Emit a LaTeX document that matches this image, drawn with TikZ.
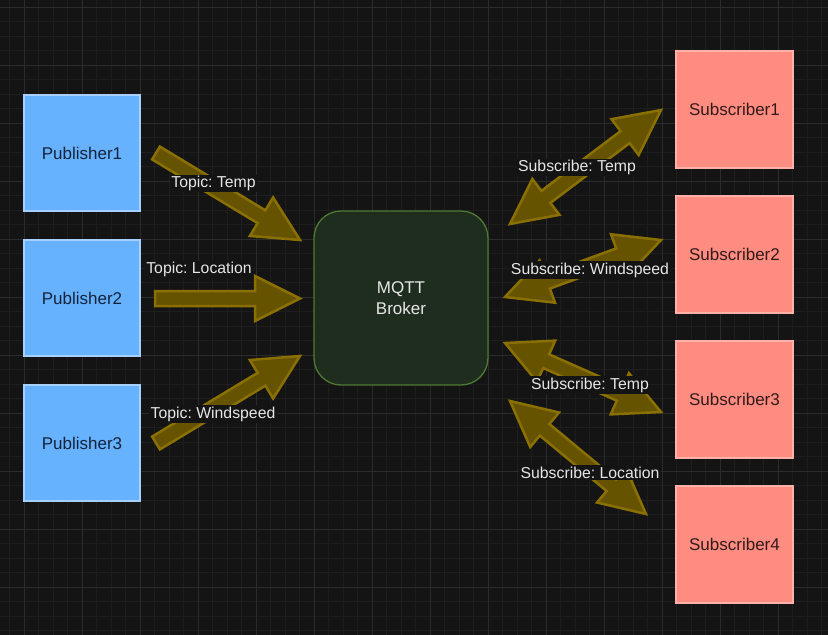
\documentclass[tikz,border=0pt]{standalone}
\usepackage{fontspec}
\setmainfont{Liberation Sans}
\usetikzlibrary{calc}
\frenchspacing
\definecolor{bgc}{HTML}{141414}
\definecolor{gridminor}{HTML}{1E1E1E}
\definecolor{gridmajor}{HTML}{2B2B2B}
\definecolor{pubfill}{HTML}{66B2FF}
\definecolor{pubdraw}{HTML}{A8D0FF}
\definecolor{pubtext}{HTML}{14233A}
\definecolor{subfill}{HTML}{FF8C80}
\definecolor{subdraw}{HTML}{FFB0A8}
\definecolor{subtext}{HTML}{331A1A}
\definecolor{brokfill}{HTML}{1F2D1F}
\definecolor{brokdraw}{HTML}{4F7A33}
\definecolor{arrfill}{HTML}{665300}
\definecolor{arrdraw}{HTML}{8A7000}
\definecolor{lbltext}{HTML}{E6E6E6}
\tikzset{
  pubbox/.style={draw=pubdraw, line width=1.3pt, fill=pubfill, minimum width=116pt, minimum height=116pt, inner sep=0pt, text=pubtext, font=\fontsize{17}{20}\selectfont},
  subbox/.style={draw=subdraw, line width=1.3pt, fill=subfill, minimum width=117pt, minimum height=117pt, inner sep=0pt, text=subtext, font=\fontsize{17}{20}\selectfont},
  brokbox/.style={draw=brokdraw, line width=1.3pt, fill=brokfill, rounded corners=27pt, minimum width=174pt, minimum height=174pt, inner sep=0pt, text=lbltext, align=center, font=\fontsize{17}{21}\selectfont},
  lbl/.style={fill=bgc, text=lbltext, inner sep=1.5pt, font=\fontsize{15.8}{18}\selectfont},
  fat/.style={fill=arrfill, draw=arrdraw, line width=2.5pt, line join=miter},
  minorline/.style={draw=gridminor, line width=0.8pt},
  majorline/.style={draw=gridmajor, line width=0.9pt}
}
% single fat arrow from #1 (tail) to #2 (tip)
\newcommand\fatarrowone[2]{%
  \coordinate (hb) at ($(#2)!45pt!(#1)$);
  \draw[fat] ($(#1)!7.5pt!90:(#2)$) -- ($(hb)!7.5pt!90:(#2)$) -- ($(hb)!22.5pt!90:(#2)$) -- (#2)
    -- ($(hb)!22.5pt!-90:(#2)$) -- ($(hb)!7.5pt!-90:(#2)$) -- ($(#1)!7.5pt!-90:(#2)$) -- cycle;
}
% double fat arrow between #1 and #2
\newcommand\fatarrowtwo[2]{%
  \coordinate (hb) at ($(#2)!45pt!(#1)$);
  \coordinate (ha) at ($(#1)!45pt!(#2)$);
  \draw[fat] (#1) -- ($(ha)!22.5pt!-90:(#2)$) -- ($(ha)!7.5pt!-90:(#2)$)
    -- ($(hb)!7.5pt!90:(#1)$) -- ($(hb)!22.5pt!90:(#1)$) -- (#2)
    -- ($(hb)!22.5pt!-90:(#1)$) -- ($(hb)!7.5pt!-90:(#1)$)
    -- ($(ha)!7.5pt!90:(#2)$) -- ($(ha)!22.5pt!90:(#2)$) -- cycle;
}
\begin{document}
\begin{tikzpicture}[x=1pt, y=-1pt]
\fill[bgc] (0,0) rectangle (828,635);
\useasboundingbox (0,0) rectangle (828,635);
% grid
\foreach \i in {-1,...,57} {\draw[minorline] ({24+14.5*\i},0) -- ({24+14.5*\i},635);}
\foreach \i in {0,...,44} {\draw[minorline] (0,{7+14.5*\i}) -- (828,{7+14.5*\i});}
\foreach \i in {-1,...,14} {\draw[majorline] ({24+58*\i},0) -- ({24+58*\i},635);}
\foreach \i in {0,...,11} {\draw[majorline] (0,{7+58*\i}) -- (828,{7+58*\i});}
% nodes
\node[pubbox] (p1) at (82,153) {Publisher1};
\node[pubbox] (p2) at (82,298) {Publisher2};
\node[pubbox] (p3) at (82,443) {Publisher3};
\node[brokbox] (br) at (401,298) {MQTT\\Broker};
\node[subbox] (s1) at (734.5,109.5) {Subscriber1};
\node[subbox] (s2) at (734.5,254.5) {Subscriber2};
\node[subbox] (s3) at (734.5,399.5) {Subscriber3};
\node[subbox] (s4) at (734.5,544.5) {Subscriber4};
% arrow end points
\coordinate (a1t) at (156,153);
\coordinate (a1h) at (300,240);
\coordinate (a2t) at (155,298.5);
\coordinate (a2h) at (300,298.5);
\coordinate (a3t) at (156,443);
\coordinate (a3h) at (300,356);
\coordinate (b1a) at (510,224);
\coordinate (b1b) at (661,110);
\coordinate (b2a) at (505,297);
\coordinate (b2b) at (661,240);
\coordinate (b3a) at (505,343);
\coordinate (b3b) at (661,412);
\coordinate (b4a) at (510,401);
\coordinate (b4b) at (646,514);
\fatarrowone{a1t}{a1h}
\fatarrowone{a2t}{a2h}
\fatarrowone{a3t}{a3h}
\fatarrowtwo{b1a}{b1b}
\fatarrowtwo{b2a}{b2b}
\fatarrowtwo{b3a}{b3b}
\fatarrowtwo{b4a}{b4b}
% labels
\node[lbl] (l1) at (213.5,183.5) {Topic: Temp};
\node[lbl] (l2) at (199,269.5) {Topic: Location};
\node[lbl] (l3) at (213,414) {Topic: Windspeed};
\node[lbl] (m1) at (577,167.5) {Subscribe: Temp};
\node[lbl] (m2) at (590,270) {Subscribe: Windspeed};
\node[lbl] (m3) at (590,385) {Subscribe: Temp};
\node[lbl] (m4) at (590,472.5) {Subscribe: Location};
\end{tikzpicture}
\end{document}
